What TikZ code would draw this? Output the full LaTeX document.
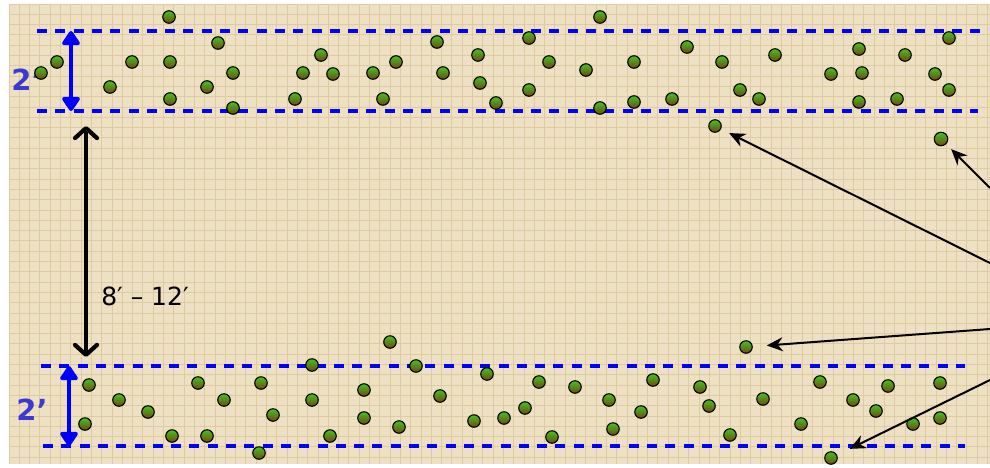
\documentclass[tikz,border=0pt]{standalone}
\usepackage{fontspec}
\setmainfont{DejaVu Sans}
\usetikzlibrary{arrows.meta}

\definecolor{paper}{HTML}{EDE0C3}
\definecolor{gridtan}{HTML}{DFCBA2}
\definecolor{leafgreen}{HTML}{45C21F}
\definecolor{soilbrown}{HTML}{6E4A0E}
\definecolor{labelblue}{HTML}{3A3AD2}

\tikzset{
    seed/.style={circle, draw=black, line width=1.1pt, minimum size=12.5pt, inner sep=0pt,
        top color=leafgreen, middle color=leafgreen!85!soilbrown, bottom color=soilbrown},
    bandline/.style={blue, line width=3.2pt, dash pattern=on 10pt off 8.3pt},
    widthmark/.style={blue, line width=4.2pt,
        {Triangle[round, length=16pt, width=20pt]}-{Triangle[round, length=16pt, width=20pt]}},
    gapmark/.style={black, line width=4.2pt, line cap=round,
        {Straight Barb[round, length=10pt, width=22pt]}-{Straight Barb[round, length=10pt, width=22pt]}},
    pointer/.style={black, line width=2pt, -{Stealth[length=16pt, width=14pt]}},
}

\begin{document}
\begin{tikzpicture}[x=1pt, y=-1pt]

% page and paper
\fill[white] (0,0) rectangle (990,467);
\useasboundingbox (0,0) rectangle (990,467);
\fill[paper] (9,4) rectangle (990,464);

% grid
\foreach \gx in {9,19.3,...,990}
    \draw[gridtan, line width=0.9pt] (\gx,4) -- (\gx,464);
\foreach \gy in {4,14.3,...,464}
    \draw[gridtan, line width=0.9pt] (9,\gy) -- (990,\gy);

% band edges
\draw[bandline] (37,31) -- (980,31);
\draw[bandline] (37,111) -- (978,111);
\draw[bandline] (41,366) -- (965,366);
\draw[bandline] (43,446) -- (965,446);

% dimension marks
\coordinate (topA) at (71,31);
\coordinate (topB) at (71,111);
\coordinate (botA) at (69,366);
\coordinate (botB) at (69,446);
\coordinate (gapA) at (86,126);
\coordinate (gapB) at (86,357);
\draw[widthmark] (topA) -- (topB);
\draw[widthmark] (botA) -- (botB);
\draw[gapmark] (gapA) -- (gapB);

\node[labelblue, font=\bfseries\fontsize{29}{29}\selectfont] (topwidth) at (27,80) {2’};
\node[labelblue, font=\bfseries\fontsize{29}{29}\selectfont] (botwidth) at (32,410) {2’};
\node[black, font=\fontsize{25}{25}\selectfont] (gaplabel) at (145,296) {8′ – 12′};

% upper row
\foreach \px/\py [count=\i] in {41/73, 57/62, 110/87, 132/62, 170/62, 170/99, 218/43, 207/87,
    233/73, 233/108, 303/73, 321/55, 333/74, 295/99, 373/73, 396/62, 383/99, 437/42,
    443/73, 478/55, 480/83, 496/103, 529/38, 529/90, 549/62, 586/70, 600/108, 634/62,
    634/102, 672/99, 687/47, 722/62, 740/90, 759/99, 775/55, 831/74, 859/49, 862/73,
    859/102, 897/99, 905/55, 935/74, 949/38, 949/90, 169/17, 600/17}
    \node[seed] (up\i) at (\px,\py) {};

% lower row
\foreach \px/\py [count=\i] in {312/365, 89/385, 198/383, 261/383, 119/400, 224/400, 312/400,
    148/412, 273/415, 85/424, 172/436, 207/436, 330/436, 259/453, 390/342, 416/366,
    487/374, 364/390, 440/396, 539/382, 575/387, 653/380, 609/400, 525/408, 641/412,
    364/418, 399/427, 474/421, 504/418, 613/429, 552/437, 700/387, 709/406, 763/399,
    730/435, 801/424, 820/382, 853/400, 876/411, 888/386, 913/424, 940/383, 940/418}
    \node[seed] (low\i) at (\px,\py) {};

% seeds outside the rows
\node[seed] (stray1) at (715,126) {};
\node[seed, minimum size=13.5pt] (stray2) at (941,139) {};
\node[seed] (stray3) at (746,347) {};
\node[seed] (stray4) at (831,458) {};

% pointers from the right edge
\coordinate (from1) at (990,263);
\coordinate (from2) at (990,188);
\coordinate (from3) at (990,329);
\coordinate (from4) at (990,380);
\draw[pointer, shorten >=9pt] (from1) -- (stray1);
\draw[pointer, shorten >=7pt] (from2) -- (stray2);
\draw[pointer, shorten >=14pt] (from3) -- (stray3);
\draw[pointer, shorten >=14pt] (from4) -- (stray4);

\end{tikzpicture}
\end{document}
